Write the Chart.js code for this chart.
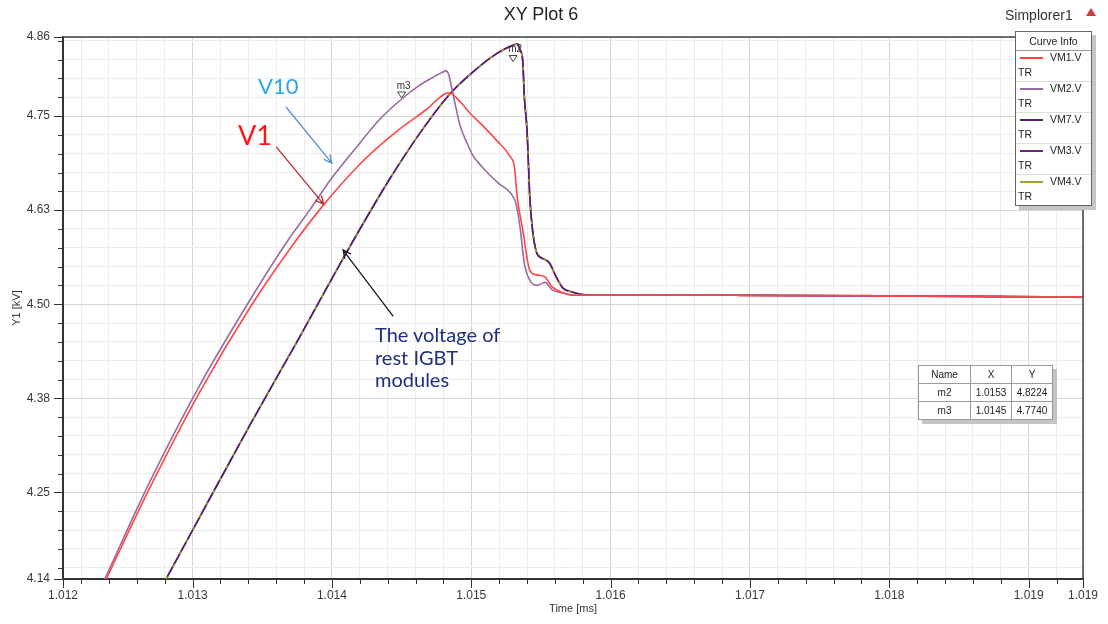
<!DOCTYPE html>
<html>
<head>
<meta charset="utf-8">
<script src="https://cdn.jsdelivr.net/npm/chart.js@4.4.0/dist/chart.umd.min.js"></script>
<style>
  html, body { margin: 0; padding: 0; background: #fff; }
  #wrap { position: relative; width: 1108px; height: 624px; overflow: hidden;
          font-family: "Liberation Sans", Arial, sans-serif; color: #222; }
  #plot { position: absolute; left: 0; top: 0; }
  .txt { position: absolute; white-space: nowrap; }
  #title { left: 441px; width: 200px; top: 4px; text-align: center; font-size: 18px; color: #222; }
  #source { left: 1005px; top: 7px; font-size: 14px; color: #333; }
  #flag { position: absolute; left: 1086px; top: 8px; width: 0; height: 0;
          border-left: 5px solid transparent; border-right: 5px solid transparent;
          border-bottom: 8px solid #d23a3a; }
  #curveInfo { position: absolute; left: 1015px; top: 31px; width: 75px; background: #fff;
               border: 1px solid #666; box-shadow: 4px 4px 0 #c4c4c4; font-size: 10.5px; }
  #curveInfo .hdr { height: 18px; line-height: 18px; text-align: center; border-bottom: 1px solid #9a9a9a; color: #222; }
  #curveInfo .entry { position: relative; height: 30px; border-bottom: 1px solid #dedede; }
  #curveInfo .entry:last-child { border-bottom: none; }
  #curveInfo .sw { position: absolute; left: 4px; top: 6px; width: 23px; height: 2px; }
  #curveInfo .nm { position: absolute; left: 34px; top: 0px; color: #222; }
  #curveInfo .tr { position: absolute; left: 2px; top: 15px; color: #222; }
  #markerTable { position: absolute; left: 918px; top: 365px; border-collapse: collapse; background: #fff;
                 box-shadow: 4px 4px 0 #c4c4c4; font-size: 10px; border: 1px solid #555; }
  #markerTable td { border: 1px solid #9a9a9a; height: 17px; padding: 0 2px; text-align: center; color: #222; }
  .note { font-family: Lato, "Open Sans", sans-serif; }
  #noteV10 { left: 258px; top: 72px; font-size: 22px; color: #2ba8e0; }
  #noteV1 { left: 238px; top: 118px; font-size: 27px; color: #ff1414; }
  #noteRest { left: 375px; top: 323px; font-size: 20px; line-height: 22.5px; color: #1d2f7e; white-space: normal; width: 170px; }
</style>
</head>
<body>
<div id="wrap">
  <canvas id="plot" width="1108" height="624"></canvas>
  <div class="txt" id="title">XY Plot 6</div>
  <div class="txt" id="source">Simplorer1</div>
  <div id="flag"></div>
  <div id="curveInfo"><div class="hdr">Curve Info</div></div>
  <table id="markerTable"></table>
  <div class="txt note" id="noteV10">V10</div>
  <div class="txt note" id="noteV1">V1</div>
  <div class="txt note" id="noteRest">The voltage of<br>rest IGBT<br>modules</div>
</div>
<script>
// ---- Curve samples: time [ms], voltage [kV] ----
const T_VM1 = [1.01238, 1.01269, 1.01305, 1.01341, 1.01372, 1.01394, 1.01420, 1.01444, 1.01468, 1.01484,
               1.01492, 1.01499, 1.01510, 1.01518, 1.01528, 1.01531, 1.01533, 1.01537, 1.01542, 1.01547,
               1.01553, 1.01558, 1.01566, 1.01574, 1.01592, 1.01691, 1.01692, 1.01788, 1.01789, 1.01882,
               1.01883, 1.01939];
const VM1 = [4.135, 4.255, 4.383, 4.495, 4.579, 4.632, 4.686, 4.726, 4.759, 4.781,
             4.769, 4.754, 4.734, 4.718, 4.696, 4.682, 4.642, 4.598, 4.545, 4.539,
             4.536, 4.523, 4.515, 4.512, 4.512, 4.512, 4.5115, 4.5115, 4.5107, 4.5107,
             4.5094, 4.5094];

const T_VM2 = [1.01237, 1.01269, 1.01305, 1.01341, 1.01367, 1.01384, 1.01400, 1.01420, 1.01434, 1.01449,
               1.01463, 1.01474, 1.01479, 1.01482, 1.01484, 1.01486, 1.01489, 1.01492, 1.01497, 1.01501,
               1.01507, 1.01513, 1.01520, 1.01528, 1.01532, 1.01535, 1.01538, 1.01542, 1.01547, 1.01553,
               1.01558, 1.01566, 1.01574, 1.01592, 1.01691, 1.01939];
const VM2 = [4.135, 4.263, 4.392, 4.505, 4.581, 4.625, 4.668, 4.714, 4.745, 4.771,
             4.791, 4.803, 4.808, 4.810, 4.804, 4.787, 4.761, 4.737, 4.714, 4.698,
             4.684, 4.672, 4.660, 4.648, 4.634, 4.602, 4.555, 4.532, 4.525, 4.529,
             4.519, 4.515, 4.512, 4.512, 4.512, 4.5094];

// VM7, VM3 and VM4 run on top of each other
const T_REST = [1.01281, 1.01305, 1.01341, 1.01377, 1.01409, 1.01441, 1.01463, 1.01484, 1.01499, 1.01515,
                1.01524, 1.01530, 1.01533, 1.01535, 1.01537, 1.01538, 1.01540, 1.01541, 1.01542, 1.01544,
                1.01547, 1.01551, 1.01556, 1.01561, 1.01566, 1.01573, 1.01580, 1.01592, 1.01691, 1.01939];
const VM7 = [4.135, 4.217, 4.339, 4.457, 4.564, 4.665, 4.727, 4.778, 4.805, 4.829,
             4.839, 4.844, 4.846, 4.838, 4.822, 4.778, 4.731, 4.688, 4.642, 4.598,
             4.568, 4.561, 4.555, 4.536, 4.521, 4.516, 4.513, 4.512, 4.512, 4.5094];
const VM3 = [4.135, 4.217, 4.339, 4.457, 4.564, 4.665, 4.727, 4.778, 4.805, 4.829,
             4.839, 4.844, 4.846, 4.838, 4.822, 4.778, 4.731, 4.688, 4.642, 4.598,
             4.568, 4.561, 4.555, 4.536, 4.521, 4.516, 4.513, 4.512, 4.512, 4.5094];
const VM4 = [4.135, 4.217, 4.339, 4.457, 4.564, 4.665, 4.727, 4.778, 4.805, 4.829,
             4.839, 4.844, 4.846, 4.838, 4.822, 4.778, 4.731, 4.688, 4.642, 4.598,
             4.568, 4.561, 4.555, 4.536, 4.521, 4.516, 4.513, 4.512, 4.512, 4.5094];

const SERIES_NAMES = ['VM1.V', 'VM2.V', 'VM7.V', 'VM3.V', 'VM4.V'];
const SERIES_COLORS = ['#ff4545', '#9a6aa2', '#5a1f6a', '#62287e', '#a3a32e'];

// ---- Axes ----
const X_RANGE = [1.01207, 1.01939];
const Y_RANGE = [4.135, 4.855];
const X_TICK_VALUES = [1.01207, 1.013, 1.014, 1.015, 1.016, 1.017, 1.018, 1.019, 1.01939];
const X_TICK_LABELS = ['1.012', '1.013', '1.014', '1.015', '1.016', '1.017', '1.018', '1.019', '1.019'];
const Y_TICK_VALUES = [4.135, 4.25, 4.375, 4.5, 4.625, 4.75, 4.855];
const Y_TICK_LABELS = ['4.14', '4.25', '4.38', '4.50', '4.63', '4.75', '4.86'];
const X_MINOR_STEP = 0.0002;
const Y_MINOR_STEP = 0.025;

// ---- Markers ----
const MARKER_NAMES = ['m2', 'm3'];
const MARKER_X = [1.0153, 1.0145];
const MARKER_Y = [4.8224, 4.7740];

// ---- Annotation arrows (data units) ----
const ARROWS = [
  { from: [1.01367, 4.762], to: [1.01400, 4.6875], color: '#5a8fd8' },
  { from: [1.01360, 4.709], to: [1.01394, 4.633], color: '#b52a2a' },
  { from: [1.01444, 4.484], to: [1.01408, 4.572], color: '#1a1a1a' }
];

function pairs(ts, vs) { return ts.map((t, i) => ({ x: t, y: vs[i] })); }

function buildTicks(range, step, majors) {
  const vals = new Set(majors.map(v => +v.toFixed(6)));
  const start = Math.ceil(range[0] / step - 1e-6) * step;
  for (let v = start; v <= range[1] + 1e-9; v += step) vals.add(+v.toFixed(6));
  return [...vals].filter(v => v >= range[0] - 1e-9 && v <= range[1] + 1e-9)
    .sort((a, b) => a - b)
    .map(v => ({ value: v, major: majors.some(m => Math.abs(m - v) < 1e-7) }));
}
function labelFor(value, vals, labels) {
  const i = vals.findIndex(v => Math.abs(v - value) < 1e-7);
  return i < 0 ? '' : labels[i];
}

const tickFont = { family: '"Liberation Sans", Arial, sans-serif', size: 12 };
const titleFont = { family: '"Liberation Sans", Arial, sans-serif', size: 11 };
const gridColor = c => (c.tick && c.tick.major) ? '#d5d5d5' : '#ececec';

const plotDecor = {
  id: 'plotDecor',
  afterDatasetsDraw(chart) {
    const { ctx, scales: { x, y } } = chart;
    ctx.save();
    // marker triangles and names
    MARKER_NAMES.forEach((name, i) => {
      const px = x.getPixelForValue(MARKER_X[i]);
      const py = y.getPixelForValue(MARKER_Y[i]);
      ctx.beginPath();
      ctx.moveTo(px, py);
      ctx.lineTo(px - 4, py - 6);
      ctx.lineTo(px + 4, py - 6);
      ctx.closePath();
      ctx.fillStyle = '#fff';
      ctx.fill();
      ctx.strokeStyle = '#444';
      ctx.lineWidth = 1;
      ctx.stroke();
      ctx.fillStyle = '#333';
      ctx.font = '10px "Liberation Sans", Arial, sans-serif';
      ctx.textAlign = 'center';
      ctx.textBaseline = 'bottom';
      ctx.fillText(name, px + 2, py - 7);
    });
    // annotation arrows
    ARROWS.forEach(a => {
      const x1 = x.getPixelForValue(a.from[0]), y1 = y.getPixelForValue(a.from[1]);
      const x2 = x.getPixelForValue(a.to[0]), y2 = y.getPixelForValue(a.to[1]);
      const ang = Math.atan2(y2 - y1, x2 - x1);
      ctx.strokeStyle = a.color;
      ctx.lineWidth = 1.3;
      ctx.beginPath();
      ctx.moveTo(x1, y1);
      ctx.lineTo(x2, y2);
      ctx.moveTo(x2 - 9 * Math.cos(ang - 0.45), y2 - 9 * Math.sin(ang - 0.45));
      ctx.lineTo(x2, y2);
      ctx.lineTo(x2 - 9 * Math.cos(ang + 0.45), y2 - 9 * Math.sin(ang + 0.45));
      ctx.stroke();
    });
    ctx.restore();
  },
  afterDraw(chart) {
    const { ctx, chartArea: a, scales: { x, y } } = chart;
    ctx.save();
    // top and right frame
    ctx.strokeStyle = '#444';
    ctx.lineWidth = 1.5;
    ctx.beginPath();
    ctx.moveTo(a.left, a.top);
    ctx.lineTo(a.right, a.top);
    ctx.lineTo(a.right, a.bottom);
    ctx.stroke();
    // outward tick marks
    ctx.strokeStyle = '#333';
    ctx.lineWidth = 1;
    ctx.beginPath();
    x.ticks.forEach(t => {
      const px = Math.round(x.getPixelForValue(t.value)) + 0.5;
      ctx.moveTo(px, a.bottom);
      ctx.lineTo(px, a.bottom + (t.major ? 9 : 5));
    });
    y.ticks.forEach(t => {
      const py = Math.round(y.getPixelForValue(t.value)) + 0.5;
      ctx.moveTo(a.left, py);
      ctx.lineTo(a.left - (t.major ? 9 : 5), py);
    });
    ctx.stroke();
    ctx.restore();
  }
};

const lineStyle = { pointRadius: 0, borderWidth: 1.6, fill: false, cubicInterpolationMode: 'monotone' };

new Chart(document.getElementById('plot'), {
  type: 'line',
  data: {
    datasets: [
      { ...lineStyle, label: SERIES_NAMES[0], data: pairs(T_VM1, VM1), borderColor: SERIES_COLORS[0], order: 0 },
      { ...lineStyle, label: SERIES_NAMES[1], data: pairs(T_VM2, VM2), borderColor: SERIES_COLORS[1], order: 1 },
      { ...lineStyle, label: SERIES_NAMES[2], data: pairs(T_REST, VM7), borderColor: SERIES_COLORS[2], order: 3 },
      { ...lineStyle, label: SERIES_NAMES[3], data: pairs(T_REST, VM3), borderColor: SERIES_COLORS[3], order: 4 },
      { ...lineStyle, label: SERIES_NAMES[4], data: pairs(T_REST, VM4), borderColor: SERIES_COLORS[4], order: 2,
        borderDash: [3, 11] }
    ]
  },
  options: {
    responsive: false,
    animation: false,
    devicePixelRatio: 1,
    layout: { padding: { top: 37, right: 25, left: 0, bottom: 0 } },
    plugins: { legend: { display: false }, tooltip: { enabled: false }, title: { display: false } },
    scales: {
      x: {
        type: 'linear',
        min: X_RANGE[0], max: X_RANGE[1],
        afterBuildTicks: s => { s.ticks = buildTicks(X_RANGE, X_MINOR_STEP, X_TICK_VALUES); },
        afterFit: s => { s.height = 45; },
        ticks: { autoSkip: false, maxRotation: 0, padding: 9, color: '#383838', font: tickFont,
                 callback: v => labelFor(v, X_TICK_VALUES, X_TICK_LABELS) },
        grid: { drawTicks: false, color: gridColor, lineWidth: 1 },
        border: { color: '#333', width: 2 },
        title: { display: true, text: 'Time [ms]', color: '#333', font: titleFont, padding: { top: 0, bottom: 8 } }
      },
      y: {
        type: 'linear',
        min: Y_RANGE[0], max: Y_RANGE[1],
        afterBuildTicks: s => { s.ticks = buildTicks(Y_RANGE, Y_MINOR_STEP, Y_TICK_VALUES); },
        afterFit: s => { s.width = 63; },
        ticks: { autoSkip: false, padding: 13, color: '#383838', font: tickFont,
                 callback: v => labelFor(v, Y_TICK_VALUES, Y_TICK_LABELS) },
        grid: { drawTicks: false, color: gridColor, lineWidth: 1 },
        border: { color: '#333', width: 2 },
        title: { display: true, text: 'Y1 [kV]', color: '#333', font: titleFont, padding: { top: 10, bottom: 0 } }
      }
    }
  },
  plugins: [plotDecor]
});

// Curve Info legend
const info = document.getElementById('curveInfo');
SERIES_NAMES.forEach((name, i) => {
  const e = document.createElement('div');
  e.className = 'entry';
  e.innerHTML = '<span class="sw" style="background:' + SERIES_COLORS[i] + '"></span>' +
                '<span class="nm">' + name + '</span><span class="tr">TR</span>';
  info.appendChild(e);
});

// Marker table
const tbl = document.getElementById('markerTable');
const rows = [['Name', 'X', 'Y']].concat(MARKER_NAMES.map((n, i) => [n, MARKER_X[i].toFixed(4), MARKER_Y[i].toFixed(4)]));
const widths = [47, 36, 36];
tbl.innerHTML = rows.map(r => '<tr>' + r.map((c, j) => '<td style="width:' + widths[j] + 'px">' + c + '</td>').join('') + '</tr>').join('');
</script>
</body>
</html>
